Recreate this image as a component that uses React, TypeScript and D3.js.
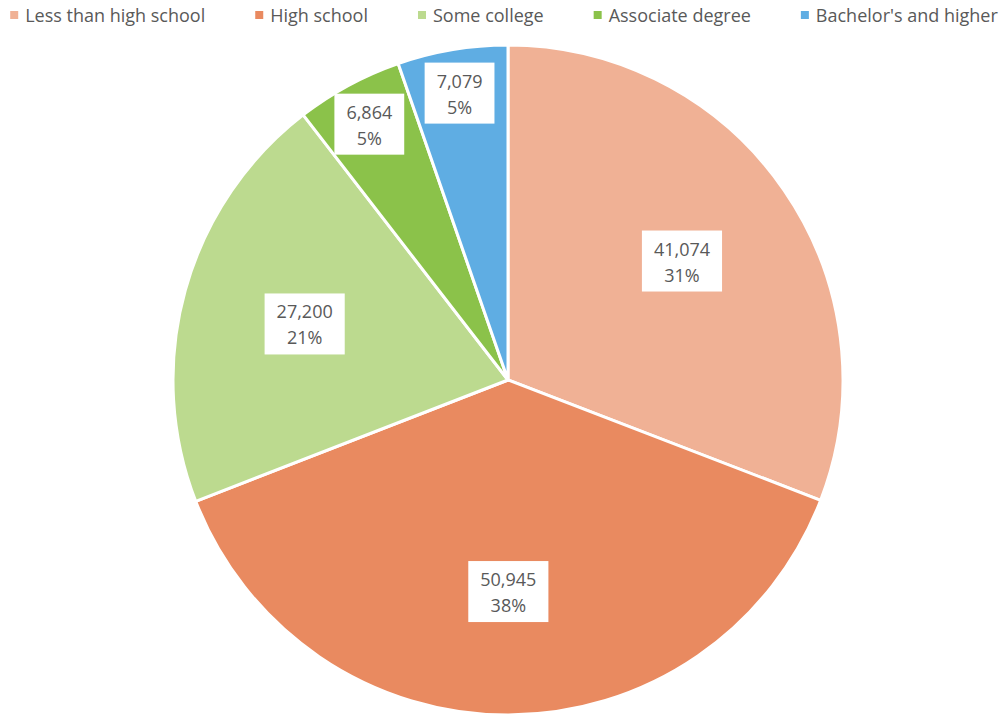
import { useEffect, useRef } from 'react';
import * as d3 from 'd3';

const categories = ['Less than high school', 'High school', 'Some college', 'Associate degree', "Bachelor's and higher"];
const values = [41074, 50945, 27200, 6864, 7079];
const colors = ['#F0B195', '#E98A60', '#BCDA8F', '#8BC24A', '#5FADE3'];

const W = 1008;
const H = 715;
const FONT = "'Open Sans', 'Noto Sans', sans-serif";
const TEXT = '#595959';

// whole percents that add up to 100 (largest remainder)
const roundPercents = (vals: number[]) => {
  const total = d3.sum(vals);
  const raw = vals.map((v) => (v / total) * 100);
  const out = raw.map(Math.floor);
  let left = 100 - d3.sum(out);
  const order = raw.map((r, i) => i).sort((a, b) => (raw[b] - out[b]) - (raw[a] - out[a]));
  for (let k = 0; k < order.length && left > 0; k++, left--) out[order[k]] += 1;
  return out;
};

const App = () => {
  const ref = useRef<SVGSVGElement>(null);

  useEffect(() => {
    const svg = d3.select(ref.current);
    svg.selectAll('*').remove();

    const cx = 508;
    const cy = 380;
    const radius = 335;
    const total = d3.sum(values);
    const pcts = roundPercents(values);
    const data = categories.map((c, i) => ({ name: c, value: values[i], color: colors[i], pct: pcts[i] }));

    const pie = d3.pie<any>().value((d) => d.value).sort(null);
    const arc = d3.arc<any>().innerRadius(0).outerRadius(radius);
    const arcs = pie(data);

    const g = svg.append('g').attr('transform', `translate(${cx},${cy})`);

    g.selectAll('path')
      .data(arcs)
      .enter()
      .append('path')
      .attr('d', arc)
      .attr('fill', (d) => d.data.color)
      .attr('stroke', '#fff')
      .attr('stroke-width', 3)
      .attr('stroke-linejoin', 'round');

    // data labels: white boxes with value + percent
    arcs.forEach((d) => {
      const share = d.value / total;
      const mid = (d.startAngle + d.endAngle) / 2;
      const r = share < 0.1 ? radius * 0.87 : radius * 0.63;
      const x = Math.sin(mid) * r;
      const y = -Math.cos(mid) * r;
      const lg = g.append('g').attr('transform', `translate(${x},${y})`);
      const rect = lg.append('rect').attr('fill', '#fff');
      const t1 = lg
        .append('text')
        .attr('text-anchor', 'middle')
        .attr('y', -5)
        .attr('font-family', FONT)
        .attr('font-size', 18)
        .attr('fill', TEXT)
        .text(d3.format(',')(d.value));
      lg.append('text')
        .attr('text-anchor', 'middle')
        .attr('y', 21)
        .attr('font-family', FONT)
        .attr('font-size', 18)
        .attr('fill', TEXT)
        .text(`${d.data.pct}%`);
      const tw = (t1.node() as SVGTextElement).getComputedTextLength();
      const bw = tw + 24;
      rect.attr('x', -bw / 2).attr('y', -30).attr('width', bw).attr('height', 61);
    });

    // legend
    const gap = 50;
    const legend = svg.append('g');
    let xPos = 0;
    data.forEach((d) => {
      const item = legend.append('g').attr('transform', `translate(${xPos},0)`);
      item.append('rect').attr('x', 0).attr('y', 11).attr('width', 8).attr('height', 8).attr('fill', d.color);
      const t = item
        .append('text')
        .attr('x', 15)
        .attr('y', 22)
        .attr('font-family', FONT)
        .attr('font-size', 18)
        .attr('fill', TEXT)
        .text(d.name);
      xPos += 15 + (t.node() as SVGTextElement).getComputedTextLength() + gap;
    });
    const legendWidth = xPos - gap;
    legend.attr('transform', `translate(${(W - legendWidth) / 2},0)`);
  }, []);

  return (
    <div style={{ position: 'absolute', left: 0, top: 0 }}>
      <svg ref={ref} width={W} height={H} style={{ display: 'block', background: '#fff' }}></svg>
    </div>
  );
};

export default App;
